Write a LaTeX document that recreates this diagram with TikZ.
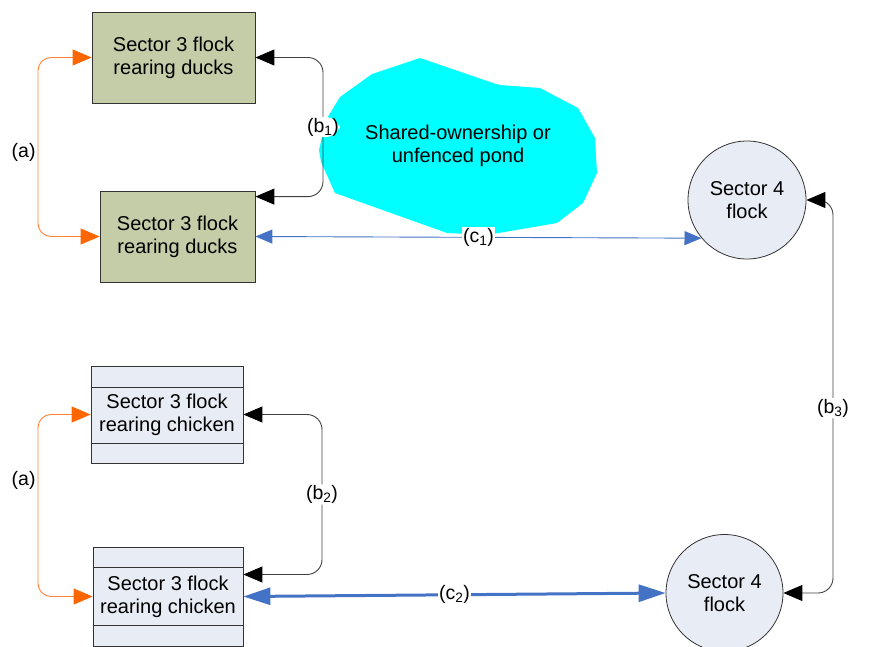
\documentclass[tikz,border=0pt]{standalone}
\usepackage{fontspec}
\setmainfont{Liberation Sans}
\usetikzlibrary{arrows.meta,calc}
\definecolor{duckfill}{RGB}{197,204,168}
\definecolor{chickfill}{RGB}{232,236,245}
\definecolor{orangeln}{RGB}{255,130,50}
\definecolor{orangetip}{RGB}{255,102,0}
\definecolor{blueln}{RGB}{68,114,196}
\definecolor{pondcyan}{RGB}{0,255,255}
\begin{document}
\begin{tikzpicture}[x=1pt,y=-1pt,
  box/.style={draw=black!80, line width=0.8pt, align=center, inner sep=0pt,
    font=\fontsize{20}{23}\selectfont},
  duck/.style={box, fill=duckfill, minimum height=91pt},
  chick/.style={box, fill=chickfill},
  flock/.style={box, circle, fill=chickfill, minimum size=117pt},
  lab/.style={fill=white, inner sep=1pt, font=\fontsize{19.5}{22}\selectfont},
  orangeconn/.style={draw=orangeln, line width=0.9pt, rounded corners=13pt,
    {Triangle[length=19pt,width=16pt,fill=orangetip,color=orangetip]}-{Triangle[length=19pt,width=16pt,fill=orangetip,color=orangetip]}},
  blackconn/.style={draw=black!75, line width=0.9pt, rounded corners=15pt,
    {Triangle[length=19pt,width=16pt,fill=black,color=black]}-{Triangle[length=19pt,width=16pt,fill=black,color=black]}},
  thinblue/.style={draw=blueln, line width=0.9pt,
    {Triangle[length=17pt,width=14pt]}-{Triangle[length=17pt,width=14pt]}},
  thickblue/.style={draw=blueln, line width=3pt,
    {Triangle[length=27pt,width=17pt]}-{Triangle[length=27pt,width=17pt]}}
]
\useasboundingbox (0,0) rectangle (877,646);

% pond cloud
\fill[pondcyan] (420,58) -- (372,74) -- (340,97) -- (326,120) -- (319,150) -- (321,162)
  -- (335,193) -- (447,233) -- (487,235) -- (557,223) -- (583,203) -- (597,173)
  -- (595,138) -- (578,108) -- (540,88) -- (500,85) -- (493,83) -- cycle;
\node[align=center, font=\fontsize{20}{23}\selectfont] (pond) at (458,146)
  {Shared-ownership or\\unfenced pond};

% boxes
\node[duck, minimum width=163pt] (duck1) at (173.5,57.5) {Sector 3 flock\\rearing ducks};
\node[duck, minimum width=155pt] (duck2) at (177.5,236.5) {Sector 3 flock\\rearing ducks};
\node[chick, minimum width=152pt, minimum height=97pt] (ch1) at (167,414.5)
  {Sector 3 flock\\rearing chicken};
\node[chick, minimum width=150pt, minimum height=99pt] (ch2) at (168,596.5)
  {Sector 3 flock\\rearing chicken};
\draw[black!80, line width=0.8pt] ($(ch1.north west)+(0,22)$) -- ($(ch1.north east)+(0,22)$);
\draw[black!80, line width=0.8pt] ($(ch1.south west)+(0,-20)$) -- ($(ch1.south east)+(0,-20)$);
\draw[black!80, line width=0.8pt] ($(ch2.north west)+(0,21)$) -- ($(ch2.north east)+(0,21)$);
\draw[black!80, line width=0.8pt] ($(ch2.south west)+(0,-21)$) -- ($(ch2.south east)+(0,-21)$);

% circles
\node[flock, minimum size=118pt] (s4a) at (747,200) {Sector 4\\flock};
\node[flock] (s4b) at (724.5,593) {Sector 4\\flock};

% helper coordinates
\coordinate (ax) at (38,0);
\coordinate (bx) at (323,0);
\coordinate (b2x) at (322,0);
\coordinate (b3x) at (833,0);
\coordinate (d2in) at ($(duck2.north east)+(0,6)$);
\coordinate (c2in) at ($(ch2.east)+(0,-22)$);

% (a) connectors
\draw[orangeconn] (duck1.west) -- (duck1.west -| ax) -- node[lab, left, fill=none, xshift=-1pt, pos=0.53] {(a)} (duck2.west -| ax) -- (duck2.west);
\draw[orangeconn] (ch1.west) -- (ch1.west -| ax) -- node[lab, left, fill=none, xshift=-1pt, pos=0.36] {(a)} (ch2.west -| ax) -- (ch2.west);

% (b) connectors
\draw[blackconn] (duck1.east) -- (duck1.east -| bx) -- node[lab] {(b\textsubscript{1})} (d2in -| bx) -- (d2in);
\draw[blackconn] (ch1.east) -- (ch1.east -| b2x) -- node[lab] {(b\textsubscript{2})} (c2in -| b2x) -- (c2in);
\draw[blackconn] (s4a.east) -- (s4a.east -| b3x) -- node[lab, pos=0.53] {(b\textsubscript{3})} (s4b.east -| b3x) -- (s4b.east);

% (c) connectors
\draw[thinblue] (duck2.east) -- node[lab] {(c\textsubscript{1})} (s4a.220);
\draw[thickblue] (ch2.east) -- node[lab] {(c\textsubscript{2})} (s4b.west);
\end{tikzpicture}
\end{document}
